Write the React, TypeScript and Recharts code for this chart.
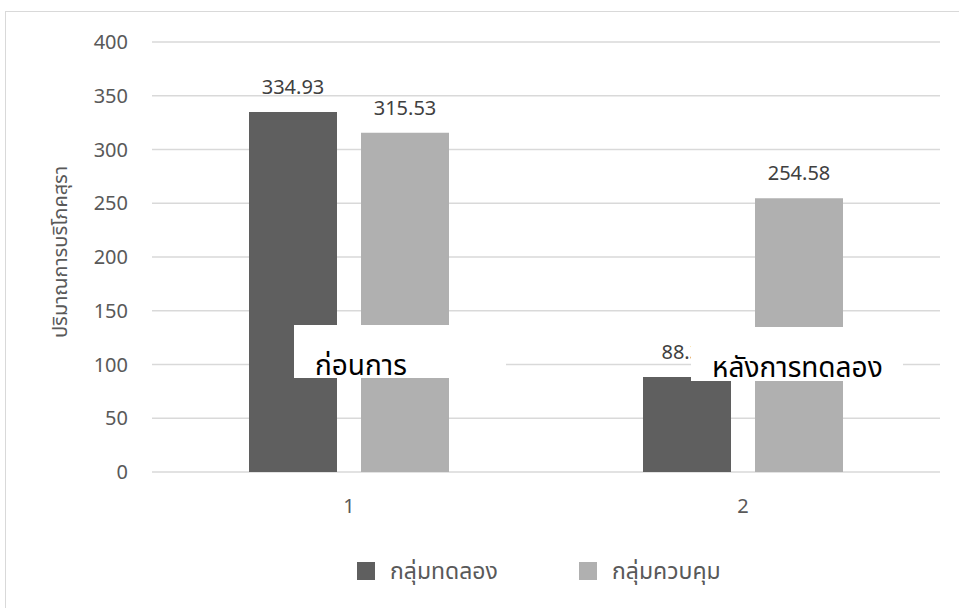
import React from 'react';
import { BarChart, Bar, XAxis, YAxis, CartesianGrid, Legend, LabelList } from 'recharts';

// consumption before / after, experimental vs control group
const rounds = ['1', '2'];
const experimental = [334.93, 88.36];
const control = [315.53, 254.58];
const yTicks = [0, 50, 100, 150, 200, 250, 300, 350, 400];

const seriesKeys = ['experimental', 'control'];
const seriesNames = { experimental: 'กลุ่มทดลอง', control: 'กลุ่มควบคุม' };
const yTitle = 'ปริมาณการบริโภคสุรา';
const noteBefore = 'ก่อนการ';
const noteAfter = 'หลังการทดลอง';

const data = rounds.map((r, i) => ({ round: r, experimental: experimental[i], control: control[i] }));

const FONT = "'Noto Sans', 'Noto Sans Thai', 'DejaVu Sans', sans-serif";
const DARK = '#5f5f5f';
const LIGHT = '#b0b0b0';
const GRID = '#d9d9d9';
const TEXT = '#595959';

function LegendContent({ payload }: any) {
    // keep series order instead of the alphabetical default
    const items = [...(payload || [])].sort(
        (a: any, b: any) => seriesKeys.indexOf(a.dataKey) - seriesKeys.indexOf(b.dataKey),
    );
    return (
        <div style={{ display: 'flex', height: 28, alignItems: 'center', paddingLeft: 357 }}>
            {items.map((p: any, i: number) => (
                <div key={p.value} style={{ display: 'flex', alignItems: 'center', width: i === 0 ? 222 : 'auto' }}>
                    <span style={{ width: 18, height: 18, background: p.color, display: 'inline-block', marginRight: 15 }} />
                    <span style={{ color: TEXT, fontSize: 23, fontFamily: FONT, whiteSpace: 'nowrap' }}>{p.value}</span>
                </div>
            ))}
        </div>
    );
}

function NoteBox({ left, top, width, height, text }: { left: number; top: number; width: number; height: number; text: string }) {
    // white annotation box; its text runs past the bottom edge and is clipped
    return (
        <div style={{ position: 'absolute', left, top, width, height, background: '#fff', overflow: 'hidden' }}>
            <span style={{ position: 'absolute', left: 21, top: 19, fontSize: 28, fontFamily: FONT, color: '#000', whiteSpace: 'nowrap', lineHeight: '40px' }}>
                {text}
            </span>
        </div>
    );
}

export default function App() {
    return (
        <div style={{ position: 'absolute', left: 0, top: 0, width: 959, height: 608, overflow: 'hidden', background: '#fff', fontFamily: FONT }}>
            <div style={{ position: 'absolute', left: 5, top: 11, width: 1000, height: 700, border: `1px solid ${GRID}` }} />
            <BarChart
                width={959}
                height={608}
                data={data}
                margin={{ top: 42, right: 19, left: 0, bottom: 0 }}
                barSize={88}
                barGap={24}
            >
                <CartesianGrid vertical={false} stroke={GRID} strokeWidth={1.5} />
                <XAxis
                    dataKey="round"
                    axisLine={false}
                    tickLine={false}
                    height={108}
                    tickMargin={21}
                    tick={{ fill: TEXT, fontSize: 20, fontFamily: FONT }}
                />
                <YAxis
                    domain={[0, 400]}
                    ticks={yTicks}
                    width={152}
                    axisLine={false}
                    tickLine={false}
                    tickMargin={18}
                    tick={{ fill: TEXT, fontSize: 20, fontFamily: FONT }}
                    label={{
                        content: ({ viewBox }: any) => {
                            const cx = viewBox.x + 59;
                            const cy = viewBox.y + viewBox.height / 2 - 5;
                            return (
                                <text x={cx} y={cy} transform={`rotate(-90, ${cx}, ${cy})`} textAnchor="middle" dominantBaseline="central"
                                    fill={TEXT} fontSize={20} fontFamily={FONT}>
                                    {yTitle}
                                </text>
                            );
                        },
                    }}
                />
                <Legend
                    verticalAlign="bottom"
                    content={<LegendContent />}
                    wrapperStyle={{ top: 557, left: 0, width: 959 }}
                />
                <Bar dataKey="experimental" name={seriesNames.experimental} fill={DARK} isAnimationActive={false}>
                    <LabelList dataKey="experimental" position="top" offset={18} fill="#404040" fontSize={20} fontFamily={FONT} />
                </Bar>
                <Bar dataKey="control" name={seriesNames.control} fill={LIGHT} isAnimationActive={false}>
                    <LabelList dataKey="control" position="top" offset={18} fill="#404040" fontSize={20} fontFamily={FONT} />
                </Bar>
            </BarChart>
            <NoteBox left={294} top={325} width={212} height={53} text={noteBefore} />
            <NoteBox left={691} top={327} width={212} height={54} text={noteAfter} />
        </div>
    );
}
